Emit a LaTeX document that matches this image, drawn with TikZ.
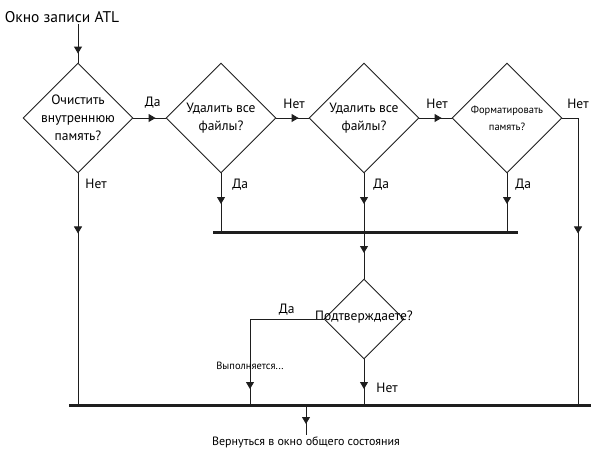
\documentclass[tikz,border=0pt]{standalone}
\usepackage{fontspec}
\setmainfont{PT Sans}
\usetikzlibrary{arrows.meta,shapes.geometric,decorations.markings}
\definecolor{Ink}{HTML}{1E1E1E}
\tikzset{ask/.style={diamond,draw=Ink,line width=0.9pt,aspect=1,minimum width=110pt,minimum height=110pt,inner sep=-12pt,align=center,font=\fontsize{13.5}{18}\selectfont},wire/.style={draw=Ink,line width=0.9pt},bar/.style={draw=Ink,line width=3pt},tip/.style={postaction={decorate},decoration={markings,mark=at position #1 with {\arrow{Triangle[width=8pt,length=7pt]}}}},lbl/.style={inner sep=1pt,font=\fontsize{13.5}{15}\selectfont}}

\begin{document}
\begin{tikzpicture}[x=1pt,y=-1pt]
\useasboundingbox (0,0) rectangle (591,451);
\node[lbl,font=\fontsize{15.5}{17}\selectfont] (start) at (62,17) {Окно записи ATL};
\node[ask] (wipe) at (78,118) {Очистить\\внутреннюю\\память?};
\node[ask] (delA) at (221,118) {Удалить все\\файлы?};
\node[ask] (delB) at (364,118) {Удалить все\\файлы?};
\node[ask,font=\fontsize{10.5}{17}\selectfont] (fmt) at (507,118) {Форматировать\\память?};
\node[ask,minimum width=80pt,minimum height=80pt,font=\fontsize{13.5}{15}\selectfont] (conf) at (364,319) {\raisebox{7pt}{Подтверждаете?}};
\node[lbl,font=\fontsize{12}{14}\selectfont] (back) at (306,442) {Вернуться в окно общего состояния};
\coordinate (barL) at (213,232);
\coordinate (barR) at (518,232);
\coordinate (baseL) at (69,405);
\coordinate (baseR) at (591,405);
\coordinate (side) at (578,405);
\coordinate (busy) at (250,405);
\draw[wire,tip=-9pt] (wipe.north |- start.south) -- (wipe.north);
\draw[wire,tip=-10pt] (wipe.east) -- node[lbl,above=8pt,pos=0.6]{Да} (delA.west);
\draw[wire,tip=-10pt] (delA.east) -- node[lbl,above=8pt,pos=0.55]{Нет} (delB.west);
\draw[wire,tip=-10pt] (delB.east) -- node[lbl,above=8pt,pos=0.55]{Нет} (fmt.west);
\draw[wire,tip=131pt] (fmt.east) -| node[lbl,above=8pt,pos=0.5]{Нет} (side);
\draw[wire,tip=60pt] (wipe.south) -- node[lbl,right=6pt,pos=0.047]{Нет} (wipe.south |- baseL);
\draw[wire,tip=-28pt] (delA.south) -- node[lbl,right=10pt,pos=0.19]{Да} (delA.south |- barL);
\draw[wire,tip=-28pt] (delB.south) -- node[lbl,right=8pt,pos=0.19]{Да} (delB.south |- barL);
\draw[wire,tip=-28pt] (fmt.south) -- node[lbl,right=7pt,pos=0.19]{Да} (fmt.south |- barL);
\draw[bar] (barL) -- (barR);
\draw[wire,tip=21pt] (conf.north |- barL) -- (conf.north);
\draw[wire,tip=-16pt] (conf.west) -| node[lbl,above=2pt,pos=0.25]{Да} node[lbl,pos=0.77,font=\fontsize{10.5}{12}\selectfont]{Выполняется...} (busy);
\draw[wire,tip=-16pt] (conf.south) -- node[lbl,right=11pt,pos=0.63]{Нет} (conf.south |- baseL);
\draw[bar] (baseL) -- (baseR);
\draw[wire,tip=19pt] (back.north |- baseL) -- (back.north);
\end{tikzpicture}
\end{document}
